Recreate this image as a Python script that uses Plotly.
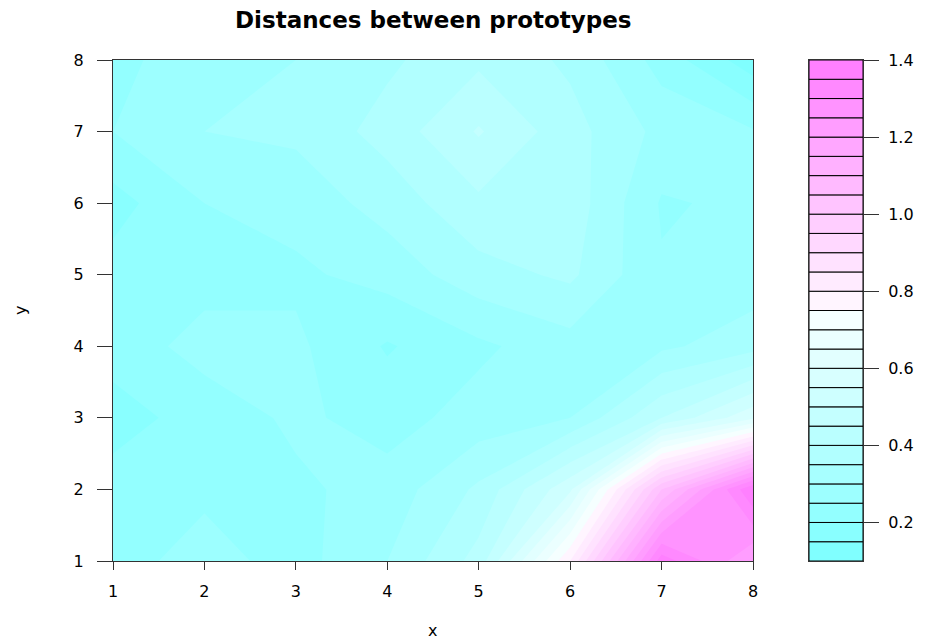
import colorsys
import plotly.graph_objects as go

# ---- data -------------------------------------------------------------
x_vals = [1, 2, 3, 4, 5, 6, 7, 8]
y_vals = [1, 2, 3, 4, 5, 6, 7, 8]
# distances between prototypes, rows = y (1..8), cols = x (1..8)
row_y1 = [0.23, 0.27, 0.23, 0.30, 0.42, 0.80, 1.38, 1.20]
row_y2 = [0.22, 0.24, 0.24, 0.27, 0.36, 0.54, 1.05, 1.40]
row_y3 = [0.18, 0.22, 0.26, 0.23, 0.27, 0.30, 0.45, 0.59]
row_y4 = [0.22, 0.27, 0.26, 0.195, 0.24, 0.28, 0.29, 0.33]
row_y5 = [0.22, 0.23, 0.24, 0.27, 0.33, 0.36, 0.255, 0.27]
row_y6 = [0.18, 0.25, 0.27, 0.32, 0.39, 0.38, 0.245, 0.26]
row_y7 = [0.25, 0.30, 0.31, 0.37, 0.455, 0.37, 0.285, 0.255]
row_y8 = [0.24, 0.27, 0.30, 0.34, 0.39, 0.34, 0.23, 0.12]
z = [row_y1, row_y2, row_y3, row_y4, row_y5, row_y6, row_y7, row_y8]

# contour levels (0.1 .. 1.4 by 0.05) and key ticks
levels = [round(0.1 + 0.05 * i, 2) for i in range(27)]
key_ticks = [0.2, 0.4, 0.6, 0.8, 1.0, 1.2, 1.4]
axis_ticks = [1, 2, 3, 4, 5, 6, 7, 8]


# ---- R cm.colors(n) ---------------------------------------------------
def cm_colors(n):
    even = n % 2 == 0
    k = n // 2
    l1 = k + 1 - (1 if even else 0)
    l2 = n - k + (1 if even else 0)
    out = []
    s_end = 0.5 / k if even else 0.0
    for i in range(l1):
        s = 0.5 + (s_end - 0.5) * i / (l1 - 1) if l1 > 1 else 0.5
        out.append(colorsys.hsv_to_rgb(6 / 12, s, 1))
    for j in range(1, l2):
        s = 0.5 * j / (l2 - 1)
        out.append(colorsys.hsv_to_rgb(10 / 12, s, 1))
    return ["#%02X%02X%02X" % tuple(int(255 * c + 0.5) for c in rgb) for rgb in out]


colors = cm_colors(len(levels) - 1)

# the page body has an 8px margin, so figure coords = page coords - 8
OFF = 8
W, H = 930 - OFF, 639 - OFF
px_l, px_r, py_t, py_b = 113 - OFF, 753 - OFF, 60 - OFF, 561 - OFF
key_l, key_r = 809 - OFF, 863 - OFF


def fx(px):
    return (px - OFF) / W


def fy(py):
    return 1 - (py - OFF) / H


fig = go.Figure()

# filled contour bands: plotly shades the region that violates the
# constraint, so "<" lev shades z >= lev; stacked from low to high.
for lev, col in zip(levels[1:-1], colors[1:]):
    fig.add_trace(go.Contour(
        x=x_vals, y=y_vals, z=z,
        contours=dict(type="constraint", operation="<", value=lev),
        fillcolor=col,
        line=dict(width=0, smoothing=0),
        showscale=False, hoverinfo="skip",
        xaxis="x", yaxis="y",
    ))

# colour key
fig.add_trace(go.Bar(
    x=[0] * (len(levels) - 1),
    y=[levels[i + 1] - levels[i] for i in range(len(levels) - 1)],
    base=levels[:-1],
    width=1,
    marker=dict(color=colors, line=dict(color="black", width=1)),
    showlegend=False, hoverinfo="skip",
    xaxis="x2", yaxis="y2",
))

FONT = "DejaVu Sans, Liberation Sans, Arial, sans-serif"
tick_font = dict(family=FONT, size=16, color="black")

fig.update_layout(
    width=W, height=H,
    margin=dict(l=0, r=0, t=0, b=0, autoexpand=False),
    paper_bgcolor="white",
    plot_bgcolor=colors[0],
    showlegend=False,
    barmode="overlay",
    xaxis=dict(
        domain=[px_l / W, px_r / W], range=[1, 8], automargin=False,
        tickvals=axis_ticks, ticks="outside", ticklen=8, tickcolor="#333",
        showline=True, linecolor="#333", linewidth=1, mirror=True,
        showgrid=False, zeroline=False, tickfont=tick_font,
        ticklabelstandoff=8,
    ),
    yaxis=dict(
        domain=[1 - py_b / H, 1 - py_t / H], range=[1, 8], automargin=False,
        tickvals=axis_ticks, ticks="outside", ticklen=15, tickcolor="#333",
        showline=True, linecolor="#333", linewidth=1, mirror=True,
        showgrid=False, zeroline=False, tickfont=tick_font,
        ticklabelstandoff=10,
    ),
    xaxis2=dict(
        domain=[key_l / W, key_r / W], range=[-0.5, 0.5], automargin=False,
        showticklabels=False, ticks="", showgrid=False, zeroline=False,
        showline=True, linecolor="#333", linewidth=1, mirror=True,
        anchor="y2",
    ),
    yaxis2=dict(
        domain=[1 - py_b / H, 1 - py_t / H], range=[0.1, 1.4], automargin=False,
        side="right", anchor="x2",
        tickvals=key_ticks, tickformat=".1f",
        ticks="outside", ticklen=15, tickcolor="#333",
        showline=True, linecolor="#333", linewidth=1, mirror=True,
        showgrid=False, zeroline=False, tickfont=tick_font,
        ticklabelstandoff=6,
    ),
    annotations=[
        dict(text="<b>Distances between prototypes</b>", x=fx(433), y=fy(20),
             xref="paper", yref="paper", showarrow=False, xanchor="center", yanchor="middle",
             font=dict(family=FONT, size=23, color="black")),
        dict(text="x", x=fx(432), y=fy(630),
             xref="paper", yref="paper", showarrow=False, xanchor="center", yanchor="middle",
             font=dict(family=FONT, size=16, color="black")),
        dict(text="y", x=fx(20), y=fy(311), textangle=-90,
             xref="paper", yref="paper", showarrow=False, xanchor="center", yanchor="middle",
             font=dict(family=FONT, size=16, color="black")),
    ],
)

fig.write_html("out.html")
